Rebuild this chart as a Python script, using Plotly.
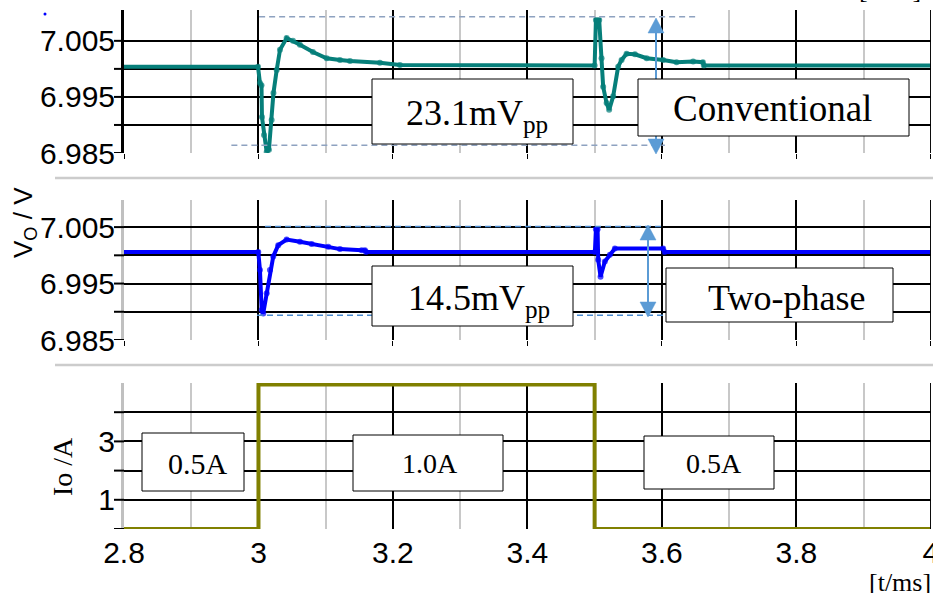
import plotly.graph_objects as go

# ---------------- data ----------------
conv_t = [2.8, 2.9993, 3.0022, 3.0045, 3.0052, 3.0082, 3.0122, 3.0156, 3.0196, 3.0223,
          3.0271, 3.0320, 3.0419, 3.0513, 3.0617, 3.0810, 3.1014, 3.1212, 3.1361, 3.1807,
          3.2104, 3.5000, 3.5019, 3.5068, 3.5103, 3.5127, 3.5178, 3.5216, 3.5276, 3.5350,
          3.5401, 3.5475, 3.5599, 3.5773, 3.6019, 3.6218, 3.6465, 3.6610, 3.6625, 4.0]
conv_v = [7.0004, 7.0004, 6.9975, 6.9971, 6.9914, 6.9882, 6.9852, 6.9856, 6.9909, 6.9957,
          6.9998, 7.0034, 7.0055, 7.0050, 7.0043, 7.0030, 7.0019, 7.0016, 7.0014, 7.0011,
          7.0007, 7.0006, 7.0087, 7.0087, 7.0019, 6.9968, 6.9939, 6.9927, 6.9951, 7.0004,
          7.0016, 7.0027, 7.0026, 7.0019, 7.0016, 7.0012, 7.0013, 7.0012, 7.0006, 7.0006]

two_t = [2.8, 2.9997, 3.0022, 3.0048, 3.0071, 3.0122, 3.0171, 3.0220, 3.0294, 3.0419,
         3.0617, 3.0791, 3.1038, 3.1212, 3.1535, 3.1584, 3.1600, 3.5004, 3.5019, 3.5044,
         3.5053, 3.5088, 3.5152, 3.5227, 3.5301, 3.6019, 3.6040, 4.0]
two_v = [7.0006, 7.0006, 6.9974, 6.9903, 6.9897, 6.9933, 6.9974, 6.9998, 7.0018, 7.0028,
         7.0024, 7.0020, 7.0015, 7.0011, 7.0009, 7.0009, 7.0006, 7.0006, 7.0046, 7.0046,
         6.9992, 6.9962, 6.9989, 7.0001, 7.0012, 7.0012, 7.0006, 7.0006]

io_t = [2.8, 3.0, 3.5, 4.0]
io_v = [0, 4.95, 0, 0]

v_tickvals = [6.985, 6.990, 6.995, 7.000, 7.005]
v_ticktext = ["6.985", "", "6.995", "", "7.005"]
i_tickvals = [0, 1, 2, 3, 4]
i_ticktext = ["", "1", "", "3", ""]

conv_pp_hi, conv_pp_lo = 7.0093, 6.9864
two_pp_hi, two_pp_lo = 7.0051, 6.9894

label_conv_pp = "23.1mV<sub>pp</sub>"
label_two_pp = "14.5mV<sub>pp</sub>"
label_conv = "Conventional"
label_two = "Two-phase"
io_labels = ["0.5A", "1.0A", "0.5A"]

T_MIN, T_MAX = 2.8, 4.0

# ---------------- geometry helpers ----------------
W, H = 933, 593
ML, MR, MT, MB = 124, 2, 10, 64
PW, PH = W - ML - MR, H - MT - MB


def px(x):
    return (x - ML) / PW


def py(y):
    return (H - MB - y) / PH


SERIF = "Liberation Serif, Times New Roman, serif"
SANS = "Liberation Sans, Arial, sans-serif"
TEAL = "#067f7a"
BLUE = "#0000ff"
OLIVE = "#808000"
ARROW = "#5b9bd5"


def msizes(n):
    s = [6] * n
    s[0] = 0
    s[-1] = 0
    return s


fig = go.Figure()
fig.add_trace(go.Scatter(x=conv_t, y=conv_v, mode="lines+markers", xaxis="x", yaxis="y",
                         line=dict(color=TEAL, width=4),
                         marker=dict(size=msizes(len(conv_t)), color=TEAL, line=dict(width=0)),
                         showlegend=False))
fig.add_trace(go.Scatter(x=two_t, y=two_v, mode="lines+markers", xaxis="x2", yaxis="y2",
                         line=dict(color=BLUE, width=4),
                         marker=dict(size=msizes(len(two_t)), color=BLUE, line=dict(width=0)),
                         showlegend=False))
fig.add_trace(go.Scatter(x=io_t, y=io_v, mode="lines", xaxis="x3", yaxis="y3",
                         line=dict(color=OLIVE, width=4, shape="hv"), showlegend=False))

xbase = dict(range=[T_MIN, T_MAX + 0.0003], tick0=T_MIN, dtick=0.2, showgrid=True, gridcolor="black",
             gridwidth=1.5, zeroline=False, showline=False,
             minor=dict(dtick=0.1, showgrid=True, gridcolor="#c8c8c8", gridwidth=2))
ybase = dict(showgrid=True, gridcolor="black", gridwidth=2, zeroline=False, ticks="",
             showline=True, linewidth=3,
             tickfont=dict(family=SANS, size=30, color="black"))

layout = dict(
    width=W, height=H, margin=dict(l=ML, r=MR, t=MT, b=MB, autoexpand=False),
    paper_bgcolor="white", plot_bgcolor="white", showlegend=False,
    xaxis=dict(xbase, anchor="y", showticklabels=False, ticks="outside", ticklen=5, tickcolor="black"),
    xaxis2=dict(xbase, anchor="y2", matches="x", showticklabels=False, ticks="outside", ticklen=5,
                tickcolor="black"),
    xaxis3=dict(xbase, anchor="y3", matches="x", showticklabels=True, ticks="",
                ticklabelstandoff=3, ticklabeloverflow="allow",
                tickfont=dict(family=SANS, size=30, color="black")),
    yaxis=dict(ybase, domain=[py(153), 1.0], range=[6.985, 7.0105], tickvals=v_tickvals,
               ticktext=v_ticktext, linecolor="black", anchor="x"),
    yaxis2=dict(ybase, domain=[py(340), py(200)], range=[6.985, 7.0098], tickvals=v_tickvals,
                ticktext=v_ticktext, linecolor="#c0c0c0", anchor="x2"),
    yaxis3=dict(ybase, domain=[0, py(383)], range=[0, 5], tickvals=i_tickvals,
                ticktext=i_ticktext, linecolor="#c0c0c0", anchor="x3"),
)
fig.update_layout(**layout)

shapes = []
# left tick marks (extensions of the horizontal grid)
for yref, vals in (("y", v_tickvals), ("y2", v_tickvals), ("y3", i_tickvals)):
    for v in vals:
        shapes.append(dict(type="line", xref="paper", yref=yref, x0=px(114), x1=px(124), y0=v, y1=v,
                           line=dict(color="black", width=2)))
# right edge grid line at t = 4.0 in every panel
for xr, yr in (("x", "y"), ("x2", "y2"), ("x3", "y3")):
    shapes.append(dict(type="line", xref=xr, yref=yr + " domain", x0=T_MAX, x1=T_MAX, y0=0, y1=1,
                       line=dict(color="black", width=1.5)))
# separators
for yy in (178, 365):
    shapes.append(dict(type="line", xref="paper", yref="paper", x0=px(55), x1=px(934), y0=py(yy), y1=py(yy),
                       line=dict(color="#cccccc", width=2.5)))
# dashed peak-to-peak guides
shapes += [
    dict(type="line", xref="x", yref="y", x0=3.001, x1=3.650, y0=conv_pp_hi, y1=conv_pp_hi,
         line=dict(color="#8ea2c0", width=1.5, dash="6px,4px")),
    dict(type="line", xref="x", yref="y", x0=2.9597, x1=3.6045, y0=conv_pp_lo, y1=conv_pp_lo,
         line=dict(color="#8ea2c0", width=1.5, dash="6px,4px")),
    dict(type="line", xref="x2", yref="y2", x0=3.0097, x1=3.6015, y0=two_pp_hi, y1=two_pp_hi,
         line=dict(color="#4a8bd0", width=1.5, dash="6px,4px")),
    dict(type="line", xref="x2", yref="y2", x0=2.9978, x1=3.606, y0=two_pp_lo, y1=two_pp_lo,
         line=dict(color="#4a8bd0", width=1.5, dash="6px,4px")),
]


def darrow(xc, ytop, ybot, hw=8, hh=15):
    out = [dict(type="line", xref="paper", yref="paper", x0=px(xc), x1=px(xc), y0=py(ytop + hh),
                y1=py(ybot - hh), line=dict(color=ARROW, width=2))]
    for tip, base in ((ytop, ytop + hh), (ybot, ybot - hh)):
        path = "M {} {} L {} {} L {} {} Z".format(px(xc), py(tip), px(xc - hw), py(base), px(xc + hw), py(base))
        out.append(dict(type="path", xref="paper", yref="paper", path=path, fillcolor=ARROW,
                        line=dict(color=ARROW, width=0.5)))
    return out


shapes += darrow(656, 18, 154)
shapes += darrow(648, 225, 317)

boxes = [(372, 79, 573, 144), (638, 79, 909, 136), (372, 266, 573, 326), (666, 268, 893, 322),
         (142, 433, 244, 491), (353, 435, 503, 491), (644, 436, 774, 489)]
for x0, y0, x1, y1 in boxes:
    shapes.append(dict(type="rect", xref="paper", yref="paper", x0=px(x0), x1=px(x1), y0=py(y1), y1=py(y0),
                       fillcolor="white", line=dict(color="black", width=1)))
# small blue dot
shapes.append(dict(type="circle", xref="paper", yref="paper", x0=px(43.5), x1=px(46.5), y0=py(15.5), y1=py(12.5),
                   fillcolor="blue", line=dict(color="blue", width=0)))
fig.update_layout(shapes=shapes)

ann = []


def txt(text, x, y, size, family=SERIF, angle=0, xanchor="center", yanchor="middle"):
    ann.append(dict(text=text, xref="paper", yref="paper", x=px(x), y=py(y), showarrow=False,
                    font=dict(family=family, size=size, color="black"), textangle=angle,
                    xanchor=xanchor, yanchor=yanchor))


txt(label_conv_pp, 477, 116, 36)
txt(label_conv, 772, 109, 37)
txt(label_two_pp, 479, 300, 36)
txt(label_two, 786, 298, 36)
txt(io_labels[0], 198, 463, 30)
txt(io_labels[1], 430, 463, 28)
txt(io_labels[2], 714, 463, 28)
txt("V<sub>O</sub> / V", 25, 223, 26, family=SANS, angle=-90)
txt("Io /A", 62, 467, 28, angle=-90)
txt("[t/ms]", 867, 566, 26, xanchor="left", yanchor="top")
txt("[t/ms]", 923, 6, 26, xanchor="right", yanchor="bottom")
fig.update_layout(annotations=ann)

fig.write_html("out.html", config={"displayModeBar": False},
               post_script="document.body.style.margin='0';document.body.style.padding='0';")
